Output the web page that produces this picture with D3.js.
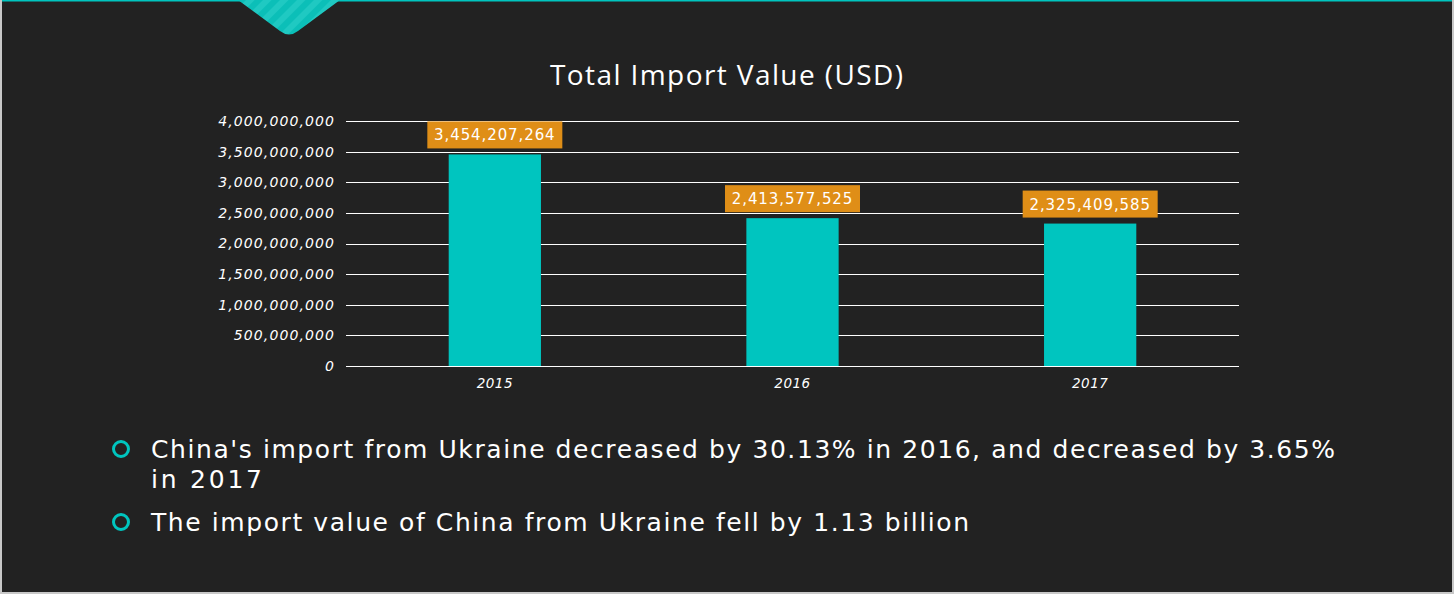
<!DOCTYPE html>
<html>
<head>
<meta charset="utf-8">
<script src="https://cdn.jsdelivr.net/npm/d3@7"></script>
<style>
  html, body { margin: 0; padding: 0; background: #c8c8c8; }
  svg { display: block; }
</style>
</head>
<body>
<script>
const categories = ["2015", "2016", "2017"];
const importValues = [3454207264, 2413577525, 2325409585];
const yTicks = [0, 500000000, 1000000000, 1500000000, 2000000000, 2500000000, 3000000000, 3500000000, 4000000000];
const chartTitle = "Total Import Value (USD)";
const bullets = [
  ["China's import from Ukraine decreased by 30.13% in 2016, and decreased by 3.65%", "in 2017"],
  ["The import value of China from Ukraine fell by 1.13 billion"]
];

(function () {
const W = 1454, H = 594;
const FONT = "'Open Sans', 'DejaVu Sans', sans-serif";
const NUMFONT = "'DejaVu Sans', sans-serif";
const teal = "#00c5bf", orange = "#df8e17", bg = "#222222";

const svg = d3.select("body").append("svg").attr("width", W).attr("height", H);

// frame
svg.append("rect").attr("x", 0).attr("y", 0).attr("width", W).attr("height", H).attr("fill", "#c8c8c8");
svg.append("rect").attr("x", 2).attr("y", 0).attr("width", W - 4).attr("height", H - 2).attr("fill", bg);
svg.append("rect").attr("x", 2).attr("y", 0).attr("width", W - 4).attr("height", 1.5).attr("fill", teal);

// decorative striped shape
const defs = svg.append("defs");
const pat = defs.append("pattern").attr("id", "stripes").attr("patternUnits", "userSpaceOnUse")
  .attr("width", 12).attr("height", 12).attr("patternTransform", "rotate(45)");
pat.append("rect").attr("width", 12).attr("height", 12).attr("fill", "#1fc9c2");
pat.append("rect").attr("width", 6).attr("height", 12).attr("fill", "#0bbfb8");
svg.append("path")
  .attr("d", "M238,0 L340,0 L298,31 Q289,38 280,31 Z")
  .attr("fill", "url(#stripes)");

// chart
const pLeft = 346, pRight = 1239, pTop = 121, pBottom = 366;
const x = d3.scaleBand().domain(categories).range([pLeft, pRight]).paddingInner(0.69).paddingOuter(0.345);
const y = d3.scaleLinear().domain([0, 4000000000]).range([pBottom, pTop]);
const fmt = d3.format(",");

svg.append("text").attr("x", 550).attr("y", 85)
  .attr("fill", "#ffffff").attr("font-family", FONT).attr("font-size", 28)
  .attr("textLength", 353).attr("lengthAdjust", "spacing").text(chartTitle);

// gridlines
svg.append("g").selectAll("line").data(yTicks).join("line")
  .attr("x1", pLeft).attr("x2", pRight)
  .attr("y1", d => Math.round(y(d)) + 0.5).attr("y2", d => Math.round(y(d)) + 0.5)
  .attr("stroke", "#ffffff").attr("stroke-width", 1);

// y axis labels
const yAxis = d3.axisLeft(y).tickValues(yTicks).tickFormat(fmt).tickSize(0).tickPadding(11);
const gy = svg.append("g").attr("transform", `translate(${pLeft},0)`).call(yAxis);
gy.select(".domain").remove();
gy.selectAll("text").attr("fill", "#ffffff").attr("font-family", NUMFONT).attr("font-size", 14)
  .attr("font-style", "italic").attr("letter-spacing", 1.1);

// x axis labels
const xAxis = d3.axisBottom(x).tickSize(0).tickPadding(12);
const gx = svg.append("g").attr("transform", `translate(0,${pBottom})`).call(xAxis);
gx.select(".domain").remove();
gx.selectAll("text").attr("fill", "#ffffff").attr("font-family", NUMFONT).attr("font-size", 13.5)
  .attr("font-style", "italic").attr("letter-spacing", 0.5);

// bars
svg.append("g").selectAll("rect").data(categories).join("rect")
  .attr("x", d => x(d)).attr("width", x.bandwidth())
  .attr("y", (d, i) => y(importValues[i])).attr("height", (d, i) => pBottom - y(importValues[i]))
  .attr("fill", teal);

// labels
const lg = svg.append("g").selectAll("g").data(categories).join("g")
  .attr("transform", (d, i) => `translate(${x(d) + x.bandwidth() / 2},${y(importValues[i]) - 6})`);
lg.append("rect").attr("x", -67.5).attr("y", -27).attr("width", 135).attr("height", 27).attr("fill", orange);
lg.append("text").attr("x", 0).attr("y", -8).attr("text-anchor", "middle")
  .attr("fill", "#ffffff").attr("font-family", NUMFONT).attr("font-size", 15)
  .attr("letter-spacing", 0.9)
  .text((d, i) => fmt(importValues[i]));

// bullets
const bulletY = [449, 522];
const bulletLen = [[1184, 111], [818]];
bullets.forEach((lines, i) => {
  svg.append("circle").attr("cx", 121).attr("cy", bulletY[i]).attr("r", 7.5)
    .attr("fill", "none").attr("stroke", teal).attr("stroke-width", 3);
  const t = svg.append("text").attr("fill", "#ffffff").attr("font-family", NUMFONT).attr("font-size", 25);
  lines.forEach((ln, j) => {
    t.append("tspan").attr("x", 151).attr("y", bulletY[i] + 9 + j * 30)
      .attr("textLength", bulletLen[i][j]).attr("lengthAdjust", "spacing").text(ln);
  });
});
})();
</script>
</body>
</html>
